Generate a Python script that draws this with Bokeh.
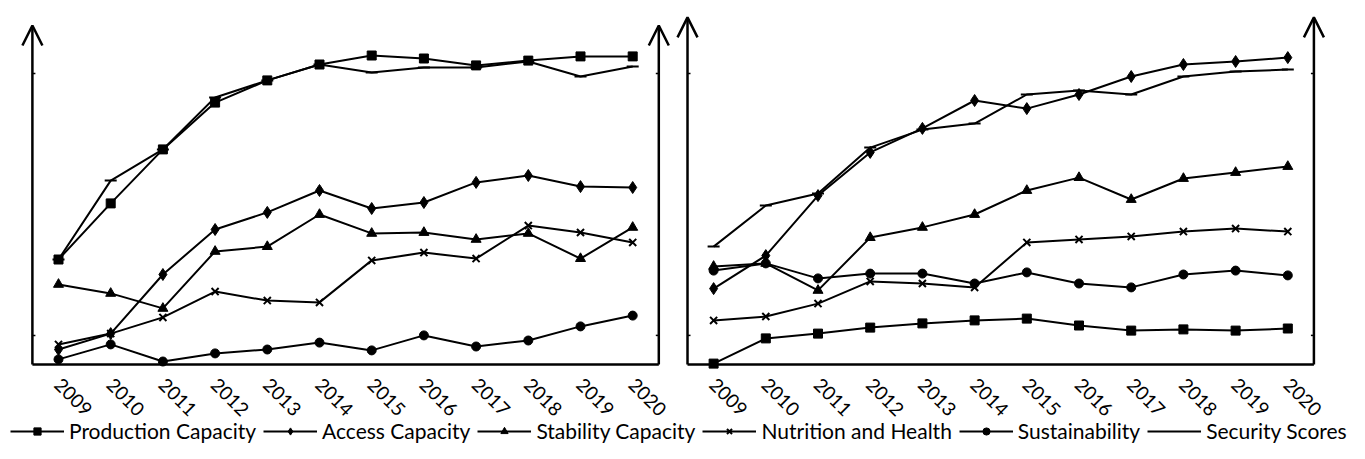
import math
from bokeh.plotting import figure
from bokeh.models import Arrow, OpenHead, Range1d, Legend, LegendItem
from bokeh.core.properties import value
from bokeh.embed import file_html
from bokeh.resources import INLINE

# ---------------- data ----------------
years = [2009, 2010, 2011, 2012, 2013, 2014, 2015, 2016, 2017, 2018, 2019, 2020]
year_labels = [str(y) for y in years]

series_names = ["Production Capacity", "Access Capacity", "Stability Capacity",
                "Nutrition and Health", "Sustainability", "Security Scores"]

# left panel (index units)
left_production = [0.350, 0.537, 0.717, 0.873, 0.947, 1.000, 1.030, 1.020, 0.997, 1.013, 1.027, 1.027]
left_access = [0.050, 0.103, 0.300, 0.450, 0.507, 0.580, 0.520, 0.540, 0.607, 0.630, 0.593, 0.590]
left_stability = [0.267, 0.237, 0.187, 0.377, 0.393, 0.500, 0.437, 0.440, 0.417, 0.437, 0.353, 0.457]
left_nutrition = [0.067, 0.103, 0.157, 0.243, 0.213, 0.207, 0.347, 0.373, 0.353, 0.463, 0.440, 0.407]
left_sustainability = [0.017, 0.067, 0.010, 0.037, 0.050, 0.073, 0.047, 0.097, 0.060, 0.080, 0.127, 0.163]
left_security = [0.350, 0.613, 0.717, 0.890, 0.947, 1.000, 0.973, 0.990, 0.990, 1.010, 0.960, 0.993]

# right panel
right_production = [0.003, 0.087, 0.103, 0.123, 0.137, 0.147, 0.153, 0.130, 0.113, 0.117, 0.113, 0.120]
right_access = [0.253, 0.363, 0.563, 0.707, 0.787, 0.880, 0.853, 0.900, 0.960, 1.000, 1.010, 1.023]
right_stability = [0.327, 0.337, 0.247, 0.423, 0.457, 0.500, 0.580, 0.623, 0.550, 0.620, 0.640, 0.660]
right_nutrition = [0.147, 0.160, 0.203, 0.277, 0.270, 0.257, 0.407, 0.417, 0.427, 0.443, 0.453, 0.443]
right_sustainability = [0.313, 0.337, 0.287, 0.303, 0.303, 0.270, 0.307, 0.270, 0.257, 0.300, 0.313, 0.297]
right_security = [0.393, 0.530, 0.570, 0.723, 0.783, 0.803, 0.900, 0.913, 0.900, 0.960, 0.977, 0.983]

left_data = [left_production, left_access, left_stability, left_nutrition, left_sustainability, left_security]
right_data = [right_production, right_access, right_stability, right_nutrition, right_sustainability, right_security]

axis_ticks = [0.097, 0.970]   # small tick marks on the vertical axes

# ---------------- layout / style ----------------
FONT = "Lato"
markers = ["square", "diamond", "triangle", "x", "circle", "dash"]
msizes = [9, 12, 10, 10, 9, 12]
LW = 2
AXW = 2.5
PANEL_SHIFT = 12.55          # the right panel sits 12.55 year-slots to the right
PX_PER_YEAR = 52.2
PX_PER_UNIT = 300.0
LEFT_TOP = 1.13              # arrow tips (index units)
RIGHT_TOP = 1.157
LABEL_Y = -0.108             # centre line of the rotated year labels

W, H = 1349, 443
x_start = years[0] - 58 / PX_PER_YEAR
x_end = x_start + W / PX_PER_YEAR
y_end = 364 / PX_PER_UNIT
y_start = y_end - H / PX_PER_UNIT

p = figure(width=W, height=H,
           x_range=Range1d(x_start, x_end),
           y_range=Range1d(y_start, y_end),
           x_axis_location=None, y_axis_location=None,
           toolbar_location=None, output_backend="svg", min_border=0)
p.outline_line_color = None
p.grid.visible = False
p.background_fill_color = "white"
p.border_fill_color = "white"

right_years = [y + PANEL_SHIFT for y in years]
tick_len = 3 / PX_PER_YEAR

# panel frames: bottom line + arrowed vertical axes
for shift, top in ((0.0, LEFT_TOP), (PANEL_SHIFT, RIGHT_TOP)):
    x0 = years[0] - 0.5 + shift
    x1 = years[-1] + 0.5 + shift
    p.add_layout(Arrow(x_start=x0, y_start=0, x_end=x1, y_end=0, start=None, end=None,
                       line_width=AXW, line_color="black"))
    for xa, d in ((x0, 1), (x1, -1)):
        p.add_layout(Arrow(x_start=xa, y_start=0, x_end=xa, y_end=top, start=None,
                           end=OpenHead(size=20, line_width=AXW, line_color="black"),
                           line_width=AXW, line_color="black"))
        for tv in axis_ticks:
            p.add_layout(Arrow(x_start=xa, y_start=tv, x_end=xa + d * tick_len, y_end=tv,
                               start=None, end=None, line_width=1.5, line_color="black"))

# year labels under each panel
for xs in (years, right_years):
    p.text(x=xs, y=[LABEL_Y] * len(xs), text=year_labels, angle=-math.pi / 4,
           x_offset=15, text_align="center", text_baseline="middle",
           text_font=value(FONT), text_font_size="19px", text_color="black")

legend_renderers = [[] for _ in series_names]
for xs, data in ((years, left_data), (right_years, right_data)):
    for i, (vals, mk, ms) in enumerate(zip(data, markers, msizes)):
        r1 = p.line(xs, vals, line_color="black", line_width=LW)
        if mk in ("x", "dash"):
            r2 = p.scatter(xs, vals, marker=mk, size=ms, line_color="black", line_width=LW)
        else:
            r2 = p.scatter(xs, vals, marker=mk, size=ms, fill_color="black", line_color="black")
        if xs is years:
            legend_renderers[i] = [r1] if mk == "dash" else [r1, r2]

items = [LegendItem(label=n, renderers=r) for n, r in zip(series_names, legend_renderers)]
leg = Legend(items=items, orientation="horizontal", location=(10, 0),
             border_line_color=None, background_fill_alpha=0, padding=0, margin=0,
             spacing=7, label_standoff=5, glyph_width=54, glyph_height=18,
             label_text_font=FONT, label_text_font_size="21px", label_text_color="black",
             label_height=18)
p.add_layout(leg)

open("out.html", "w").write(file_html(p, INLINE))
